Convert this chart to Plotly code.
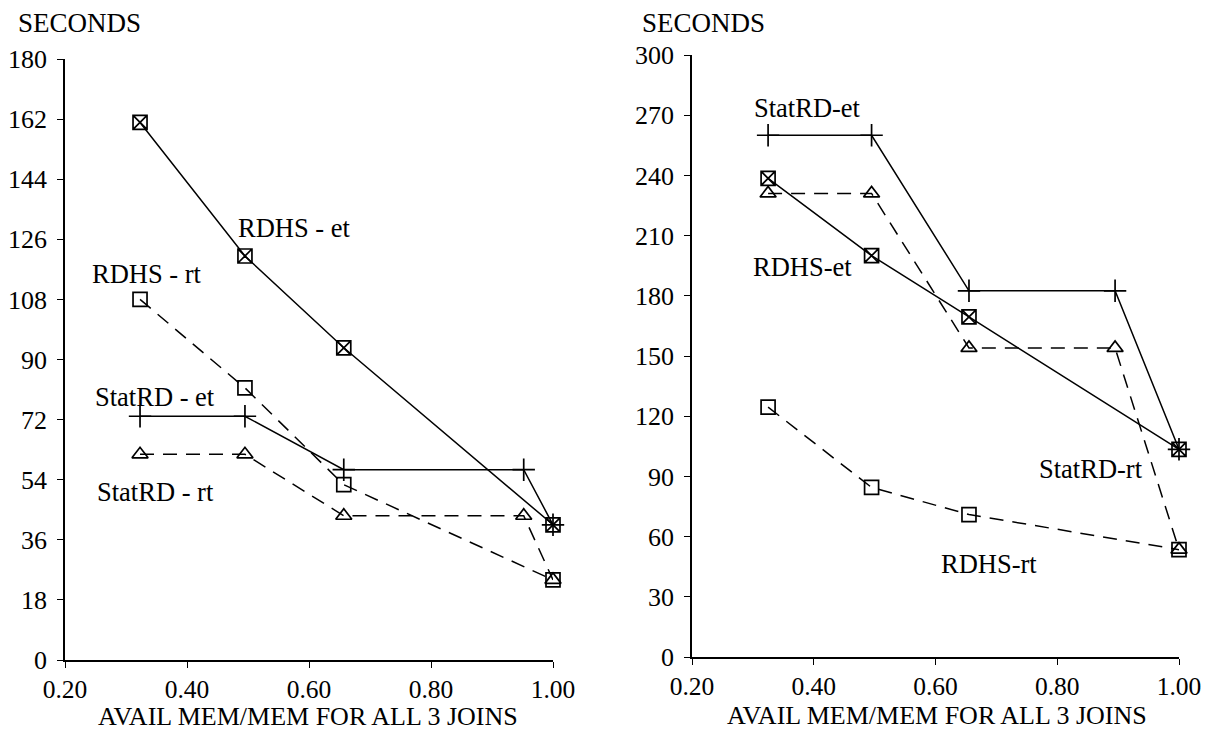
import plotly.graph_objects as go

# ---------------- data ----------------
# Left panel
x_left_rdhs = [0.323, 0.495, 0.657, 1.0]
rdhs_et_left = [161, 121, 93.5, 40.5]
rdhs_rt_left = [108, 81.5, 52.5, 24]
x_left_stat = [0.323, 0.495, 0.657, 0.952, 1.0]
stat_et_left = [73, 73, 57, 57, 40.5]
stat_rt_left = [61.6, 61.6, 43.2, 43.2, 24]

# Right panel
x_right_rdhs = [0.325, 0.495, 0.655, 1.0]
rdhs_et_right = [238.5, 200, 169.5, 103.5]
rdhs_rt_right = [124.5, 84.5, 71, 53.5]
x_right_stat = [0.325, 0.495, 0.655, 0.895, 1.0]
stat_et_right = [260, 260, 182.5, 182.5, 103.5]
stat_rt_right = [231, 231, 154, 154, 53.5]

x_ticks = [0.2, 0.4, 0.6, 0.8, 1.0]
x_ticklabels = ["0.20", "0.40", "0.60", "0.80", "1.00"]
y_ticks_left = [0, 18, 36, 54, 72, 90, 108, 126, 144, 162, 180]
y_ticks_right = [0, 30, 60, 90, 120, 150, 180, 210, 240, 270, 300]

x_title = "AVAIL MEM/MEM FOR ALL 3 JOINS"
y_title = "SECONDS"

labels_left = [("RDHS - et", 0.577, 129.4), ("RDHS - rt", 0.334, 115.6),
               ("StatRD - et", 0.347, 78.8), ("StatRD - rt", 0.348, 50.3)]
labels_right = [("StatRD-et", 0.389, 273.5), ("RDHS-et", 0.382, 194.3),
                ("StatRD-rt", 0.855, 93.7), ("RDHS-rt", 0.688, 46.3)]

FONT = "Liberation Serif"
W, H = 1212, 732

fig = go.Figure()

def add_series(x, y, xa, ya, symbol, dash, size):
    fig.add_trace(go.Scatter(
        x=x, y=y, xaxis=xa, yaxis=ya, mode="lines+markers",
        line=dict(color="black", width=1.5, dash=dash),
        marker=dict(symbol=symbol, size=size, color="black",
                    line=dict(color="black", width=1.7)),
        cliponaxis=False, showlegend=False, hoverinfo="skip"))

DASH = "14px,9px"
# left panel
add_series(x_left_stat, stat_et_left, "x", "y", "cross-thin", "solid", 16)
add_series(x_left_stat, stat_rt_left, "x", "y", "triangle-up-open", DASH, 14)
add_series(x_left_rdhs, rdhs_et_left, "x", "y", "square-x-open", "solid", 14)
add_series(x_left_rdhs, rdhs_rt_left, "x", "y", "square-open", DASH, 14)
# right panel
add_series(x_right_stat, stat_et_right, "x2", "y2", "cross-thin", "solid", 16)
add_series(x_right_stat, stat_rt_right, "x2", "y2", "triangle-up-open", DASH, 14)
add_series(x_right_rdhs, rdhs_et_right, "x2", "y2", "square-x-open", "solid", 14)
add_series(x_right_rdhs, rdhs_rt_right, "x2", "y2", "square-open", DASH, 14)

axis_common = dict(showgrid=False, zeroline=False, showline=True,
                   linecolor="black", linewidth=1.6, ticks="outside",
                   ticklen=6, tickwidth=1.4, tickcolor="black",
                   automargin=False)
yfont = dict(family=FONT, size=26, color="black")
xfont = dict(family=FONT, size=25.5, color="black")

fig.update_layout(
    width=W, height=H,
    margin=dict(l=0, r=0, t=0, b=0, autoexpand=False),
    paper_bgcolor="white", plot_bgcolor="white",
    font=dict(family=FONT, color="black"),
    xaxis=dict(domain=[65 / W, 553 / W], range=[0.2, 1.0], tickvals=x_ticks,
               ticktext=x_ticklabels, anchor="y", ticklabelstandoff=0,
               tickfont=xfont, **axis_common),
    yaxis=dict(domain=[1 - 660 / H, 1 - 59 / H], range=[0, 180],
               tickvals=y_ticks_left, anchor="x", ticklabelstandoff=5,
               tickfont=yfont, **axis_common),
    xaxis2=dict(domain=[692 / W, 1179 / W], range=[0.2, 1.0], tickvals=x_ticks,
                ticktext=x_ticklabels, anchor="y2", ticklabelstandoff=0,
                tickfont=xfont, **axis_common),
    yaxis2=dict(domain=[1 - 657 / H, 1 - 55 / H], range=[0, 300],
                tickvals=y_ticks_right, anchor="x2", ticklabelstandoff=5,
                tickfont=yfont, **axis_common),
)

ann = []
for txt, x, y in labels_left:
    ann.append(dict(text=txt, x=x, y=y, xref="x", yref="y", showarrow=False,
                    font=dict(family=FONT, size=26.5, color="black")))
for txt, x, y in labels_right:
    ann.append(dict(text=txt, x=x, y=y, xref="x2", yref="y2", showarrow=False,
                    font=dict(family=FONT, size=26.5, color="black")))
# axis titles
for txt, px, py, fs in [(y_title, 79, 23, 27), (y_title, 703, 23, 27),
                        (x_title, 308, 716.5, 26), (x_title, 937, 715, 26)]:
    ann.append(dict(text=txt, x=px / W, y=1 - py / H, xref="paper", yref="paper",
                    showarrow=False, xanchor="center", yanchor="middle",
                    font=dict(family=FONT, size=fs, color="black")))
fig.update_layout(annotations=ann)

fig.write_html("out.html")
